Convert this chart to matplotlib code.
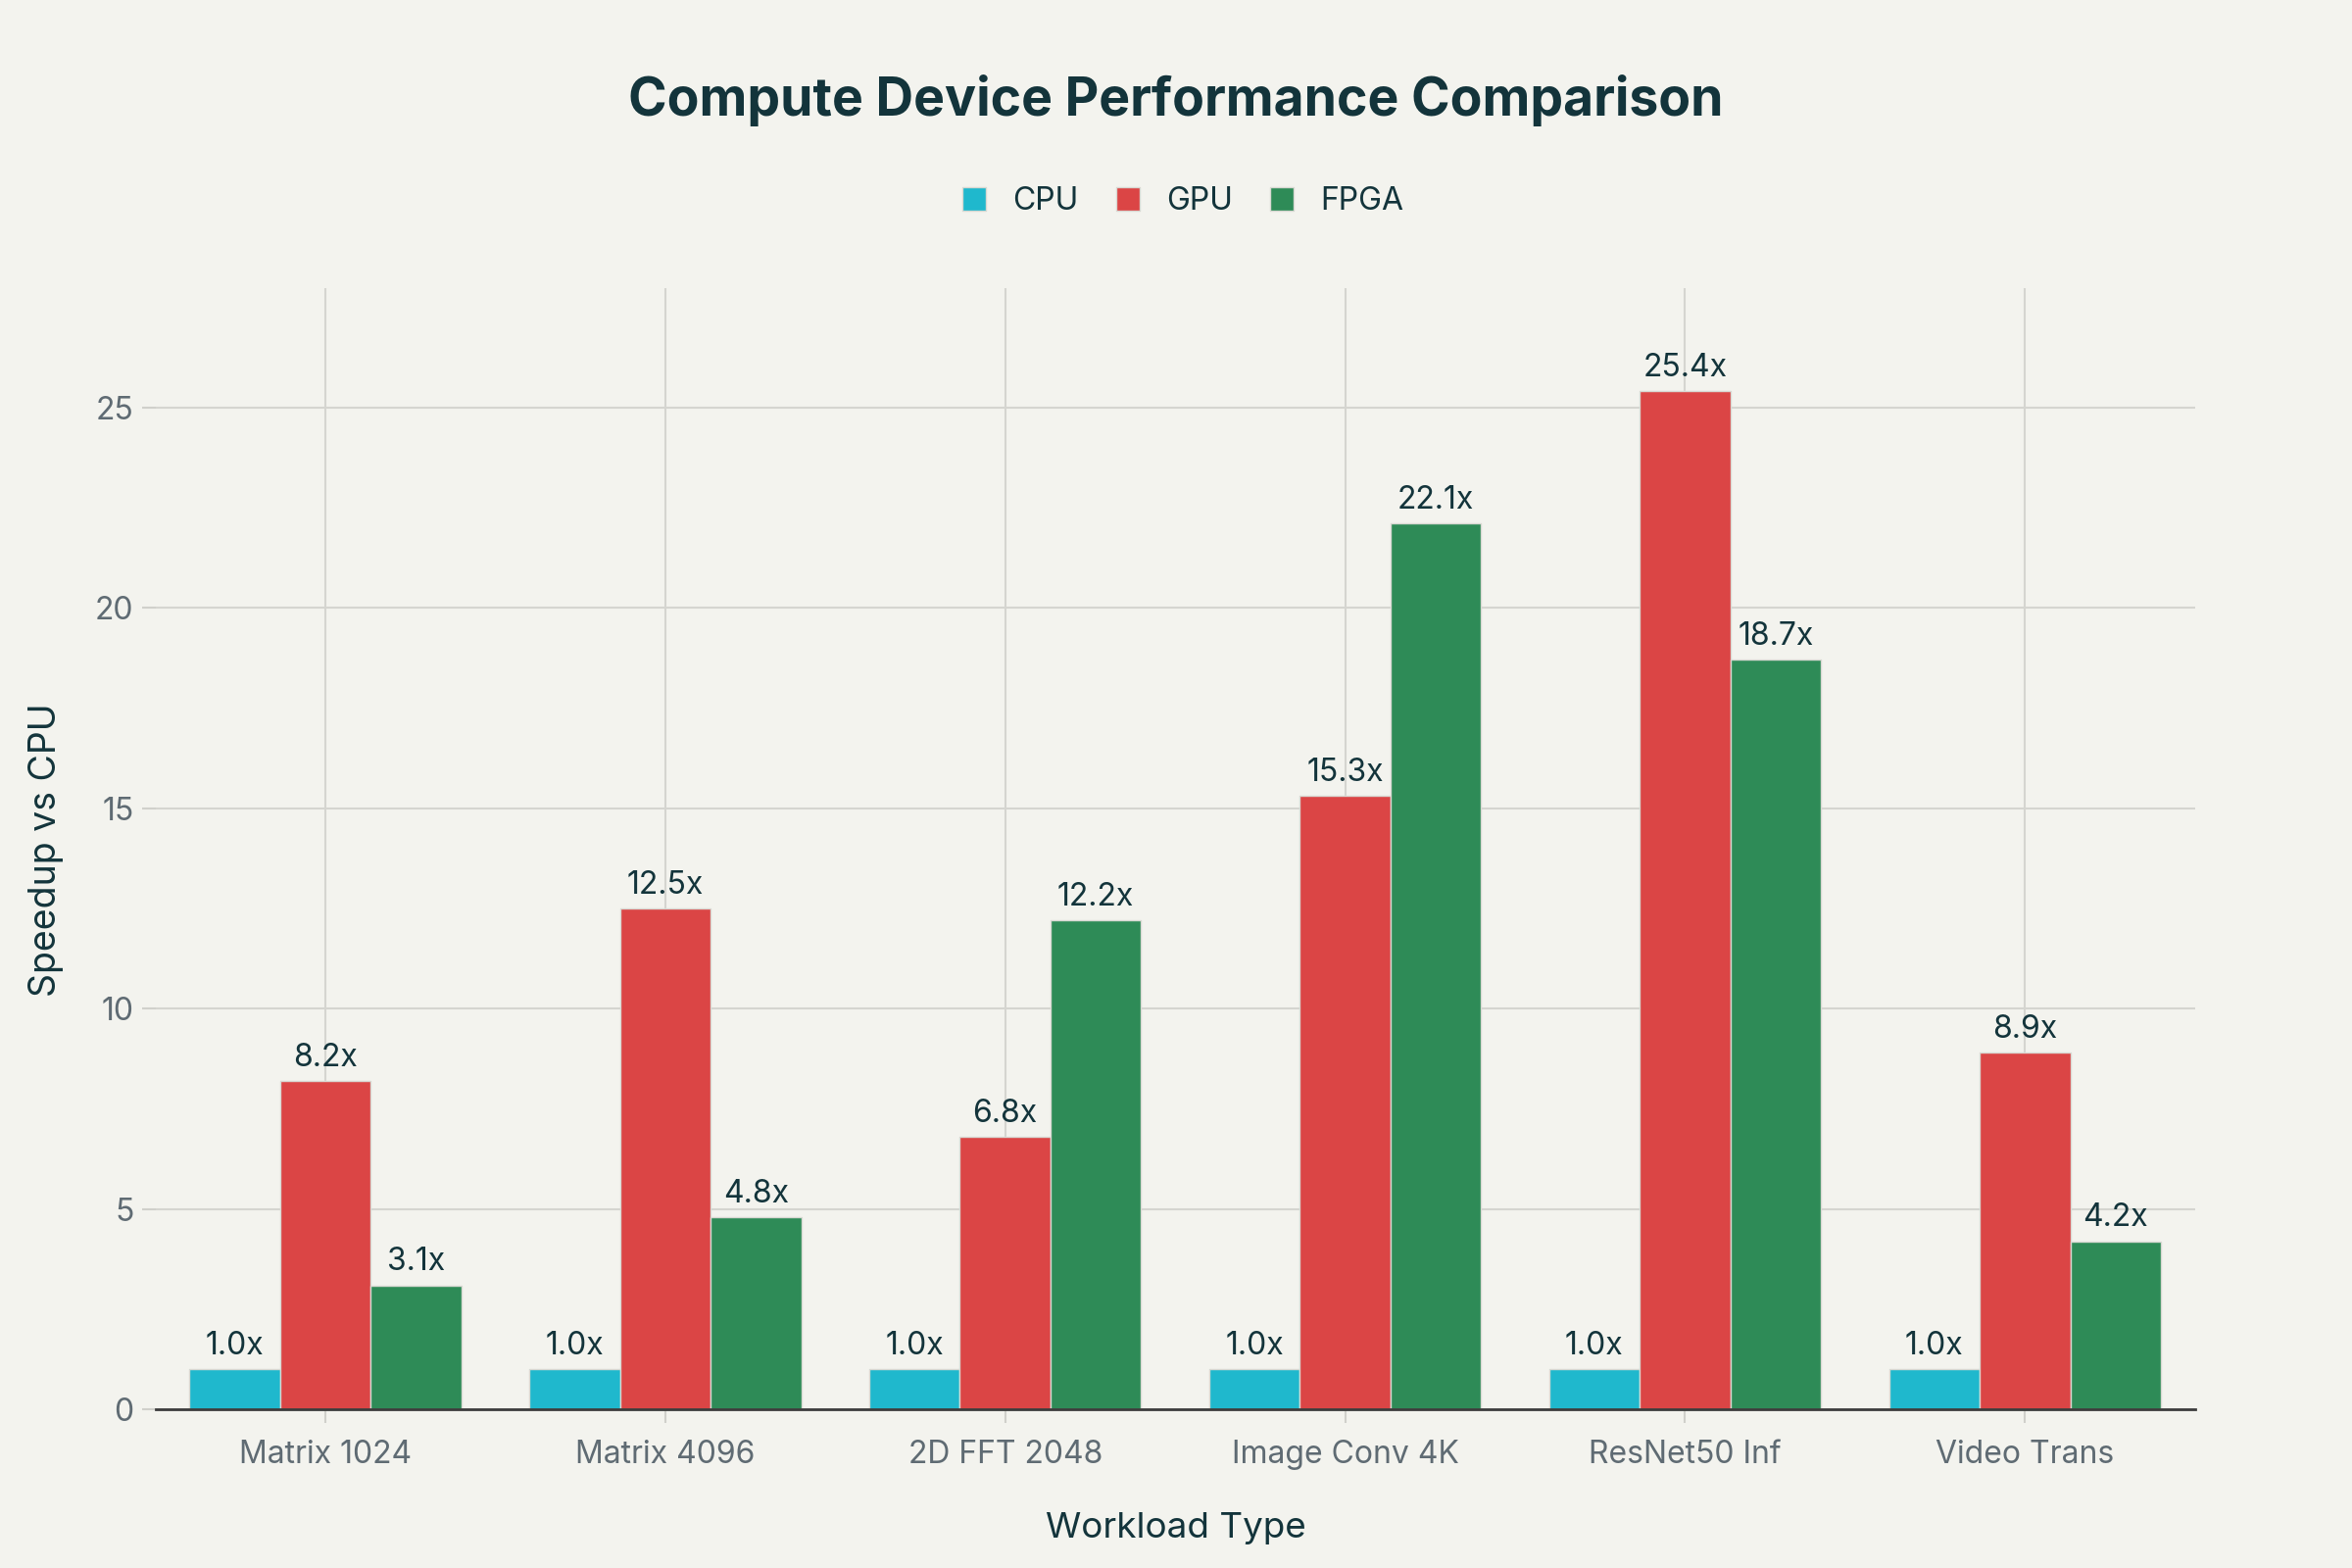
import matplotlib
matplotlib.use("Agg")
import matplotlib.pyplot as plt
import numpy as np

categories = ["Matrix 1024", "Matrix 4096", "2D FFT 2048", "Image Conv 4K", "ResNet50 Inf", "Video Trans"]
cpu = [1.0, 1.0, 1.0, 1.0, 1.0, 1.0]
gpu = [8.2, 12.5, 6.8, 15.3, 25.4, 8.9]
fpga = [3.1, 4.8, 12.2, 22.1, 18.7, 4.2]
series_names = ["CPU", "GPU", "FPGA"]
colors = ["#1FB8CD", "#DB4545", "#2E8B57"]
yticks = [0, 5, 10, 15, 20, 25]

plt.rcParams['font.family'] = ['Inter', 'DejaVu Sans']
bg = "#F3F3EE"
dark = "#13343B"
gray = "#5F6B73"

fig = plt.figure(figsize=(24, 16), dpi=100, facecolor=bg)
ax = fig.add_axes([0.0661, 0.101, 0.8671, 0.715], facecolor=bg)

x = np.arange(len(categories))
w = 0.8 / 3
for i, (name, vals, c) in enumerate(zip(series_names, [cpu, gpu, fpga], colors)):
    pos = x + (i - 1) * w
    ax.bar(pos, vals, width=w, color=c, edgecolor="#D8D8D2", linewidth=1.0,
           label=name, zorder=3)
    for xp, v in zip(pos, vals):
        ax.annotate(f"{v:.1f}x", (xp, v), xytext=(0, 6), textcoords="offset points",
                    ha="center", va="bottom", fontsize=23, color=dark, zorder=4)

ax.set_xlim(-0.5, len(categories) - 0.5)
ax.set_ylim(0, 27.96)
ax.set_yticks(yticks)
ax.set_xticks(x)
ax.set_xticklabels(categories)
ax.grid(True, color="#D5D5D0", linewidth=1.5, zorder=0)
ax.set_axisbelow(True)
for s in ["top", "right", "left"]:
    ax.spines[s].set_visible(False)
ax.spines["bottom"].set_color("#3C3C3C")
ax.spines["bottom"].set_linewidth(2)
ax.spines["bottom"].set_zorder(5)
ax.tick_params(axis="x", colors="#D0D0CB", length=10, width=1.5, pad=12, labelsize=23, labelcolor=gray)
ax.tick_params(axis="y", colors="#D0D0CB", length=10, width=1.5, pad=6, labelsize=23, labelcolor=gray)

fig.text(0.5, 0.025, "Workload Type", ha="center", va="center", fontsize=26.5, color=dark)
fig.text(0.0197, 0.458, "Speedup vs CPU", ha="center", va="center", rotation=90, fontsize=27, color=dark)
fig.text(0.5, 0.936, "Compute Device Performance Comparison", ha="center", va="center",
         fontsize=38.5, fontweight="bold", color=dark)

leg = fig.legend(loc="center", bbox_to_anchor=(0.503, 0.8715), ncol=3, frameon=False,
                 fontsize=23, handlelength=0.75, handleheight=0.75, columnspacing=1.2,
                 handletextpad=0.85, labelcolor=dark)

fig.savefig("out.png", dpi=100, facecolor=bg)
